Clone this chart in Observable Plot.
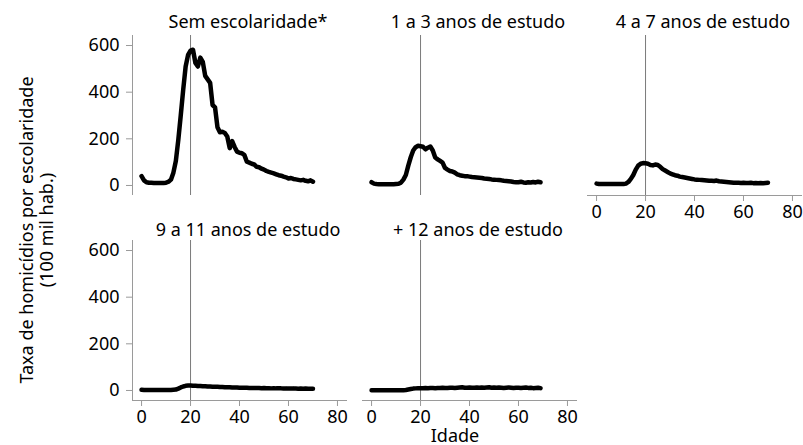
<!DOCTYPE html>
<html><head><meta charset="utf-8">
<script src="https://cdn.jsdelivr.net/npm/d3@7"></script>
<script src="https://cdn.jsdelivr.net/npm/@observablehq/plot@0.6"></script>
<style>
html,body{margin:0;padding:0;background:#fff;overflow:hidden;}
#chart{position:relative;width:803px;height:445px;font-family:"Noto Sans",sans-serif;color:#000;overflow:hidden;}
#chart svg{position:absolute;}
.lab{position:absolute;font-size:18px;white-space:nowrap;text-align:center;line-height:20px;}
#xl{line-height:16px;}
</style></head><body><div id="chart"></div>
<script>
const titles = ["Sem escolaridade*", "1 a 3 anos de estudo", "4 a 7 anos de estudo", "9 a 11 anos de estudo", "+ 12 anos de estudo"];
const xLabel = "Idade";
const yLabelLines = ["Taxa de homicídios por escolaridade", "(100 mil hab.)"];
const xTicks = [0, 20, 40, 60, 80];
const yTicks = [0, 200, 400, 600];
const refAge = 20;
const ages = d3.range(0, 71);

const semEscolaridade = [40,22,14,12,12,11,11,11,11,11,12,16,25,55,105,195,300,410,510,560,578,582,525,510,548,530,470,455,440,345,335,250,228,230,225,210,160,190,165,145,140,138,130,102,98,93,90,80,78,72,68,62,58,55,52,48,44,42,38,35,30,32,28,26,24,22,24,20,18,22,16];
const anos1a3 = [14,8,6,5,5,5,5,5,5,5,6,7,12,25,45,85,121,150,164,170,168,166,155,162,167,150,120,112,105,98,75,68,62,60,55,48,44,42,40,40,38,36,35,34,33,32,30,29,28,26,25,24,23,22,20,19,18,17,15,14,14,16,13,12,14,13,15,13,16,14];
const anos4a7 = [8,6,6,6,6,6,6,6,6,6,6,6,8,15,28,45,68,85,93,96,95,93,88,86,90,88,80,70,64,58,52,48,44,42,38,36,34,32,30,28,26,25,24,23,22,21,20,20,19,21,18,17,16,15,14,13,12,12,12,11,12,11,11,12,10,11,10,11,10,11,12];
const anos9a11 = [3,2,2,2,2,2,2,2,2,2,2,2,2,3,4,8,13,17,20,21,21,20,20,19,19,18,18,17,17,16,16,16,15,15,14,14,14,13,13,13,12,12,12,12,11,11,11,11,11,10,11,10,10,9,10,9,9,9,8,9,8,8,9,8,7,8,7,8,7,7,7];
const anos12mais = [1,1,1,1,1,1,1,1,1,1,1,1,1,1,2,4,6,8,9,10,10,10,11,10,11,11,10,11,11,12,11,11,12,12,11,12,13,14,12,12,13,12,12,13,12,13,12,13,14,12,13,12,13,12,11,12,13,12,11,12,12,11,12,13,11,12,10,11,12,10];

const series = [semEscolaridade, anos1a3, anos4a7, anos9a11, anos12mais];
const xDomain = [-3.7, 84.1];
const yDomain = [-43, 643];

const chart = document.getElementById("chart");
const layout = [
  {left: 132, top: 35, yAxis: true, xAxis: false, dy: -8},
  {left: 361.7, top: 35, yAxis: false, xAxis: false, dy: -8},
  {left: 587, top: 35, yAxis: false, xAxis: true, dy: -8},
  {left: 132, top: 240, yAxis: true, xAxis: true, dy: -5},
  {left: 361.7, top: 240, yAxis: false, xAxis: true, dy: -5}
];
const mL = 55, mT = 35, pw = 215, ph = 160;
const axisColor = "#9a9a9a";

layout.forEach((p, k) => {
  const data = series[k].map((v, i) => ({age: ages[i], rate: v}));
  const marks = [];
  if (p.yAxis) {
    marks.push(Plot.ruleX([xDomain[0]], {stroke: axisColor}));
    marks.push(Plot.axisY({ticks: yTicks, tickSize: 6, tickPadding: 7, stroke: axisColor, fill: "black", label: null}));
  }
  if (p.xAxis) {
    marks.push(Plot.ruleY([yDomain[0]], {stroke: axisColor}));
    marks.push(Plot.axisX({ticks: xTicks, tickSize: 6, tickPadding: 4, stroke: axisColor, fill: "black", label: null}));
  }
  marks.push(Plot.ruleX([refAge], {stroke: "#7a7a7a", strokeWidth: 1}));
  marks.push(Plot.line(data, {x: "age", y: "rate", stroke: "black", strokeWidth: 4.5, strokeLinejoin: "round", strokeLinecap: "round"}));
  marks.push(Plot.text([titles[k]], {text: d => d, frameAnchor: "top", lineAnchor: "bottom", dy: p.dy, dx: 8, fill: "black", fontSize: 18}));
  const svg = Plot.plot({
    width: mL + pw + 5, height: mT + ph + 45,
    marginLeft: mL, marginRight: 5, marginTop: mT, marginBottom: 45,
    x: {domain: xDomain, axis: null},
    y: {domain: yDomain, axis: null},
    style: {background: "none", overflow: "visible", fontFamily: "'Noto Sans', sans-serif", fontSize: "18px", color: "black"},
    marks
  });
  svg.style.left = (p.left - mL) + "px";
  svg.style.top = (p.top - mT) + "px";
  chart.appendChild(svg);
});

const yl = document.createElement("div");
yl.className = "lab";
yl.innerHTML = yLabelLines.join("<br>");
yl.style.left = "36px"; yl.style.top = "230px";
yl.style.transform = "translate(-50%,-50%) rotate(-90deg)";
chart.appendChild(yl);

const xl = document.createElement("div");
xl.className = "lab";
xl.id = "xl";
xl.textContent = xLabel;
xl.style.left = "455px"; xl.style.top = "435px";
xl.style.transform = "translate(-50%,-50%)";
chart.appendChild(xl);
</script></body></html>
